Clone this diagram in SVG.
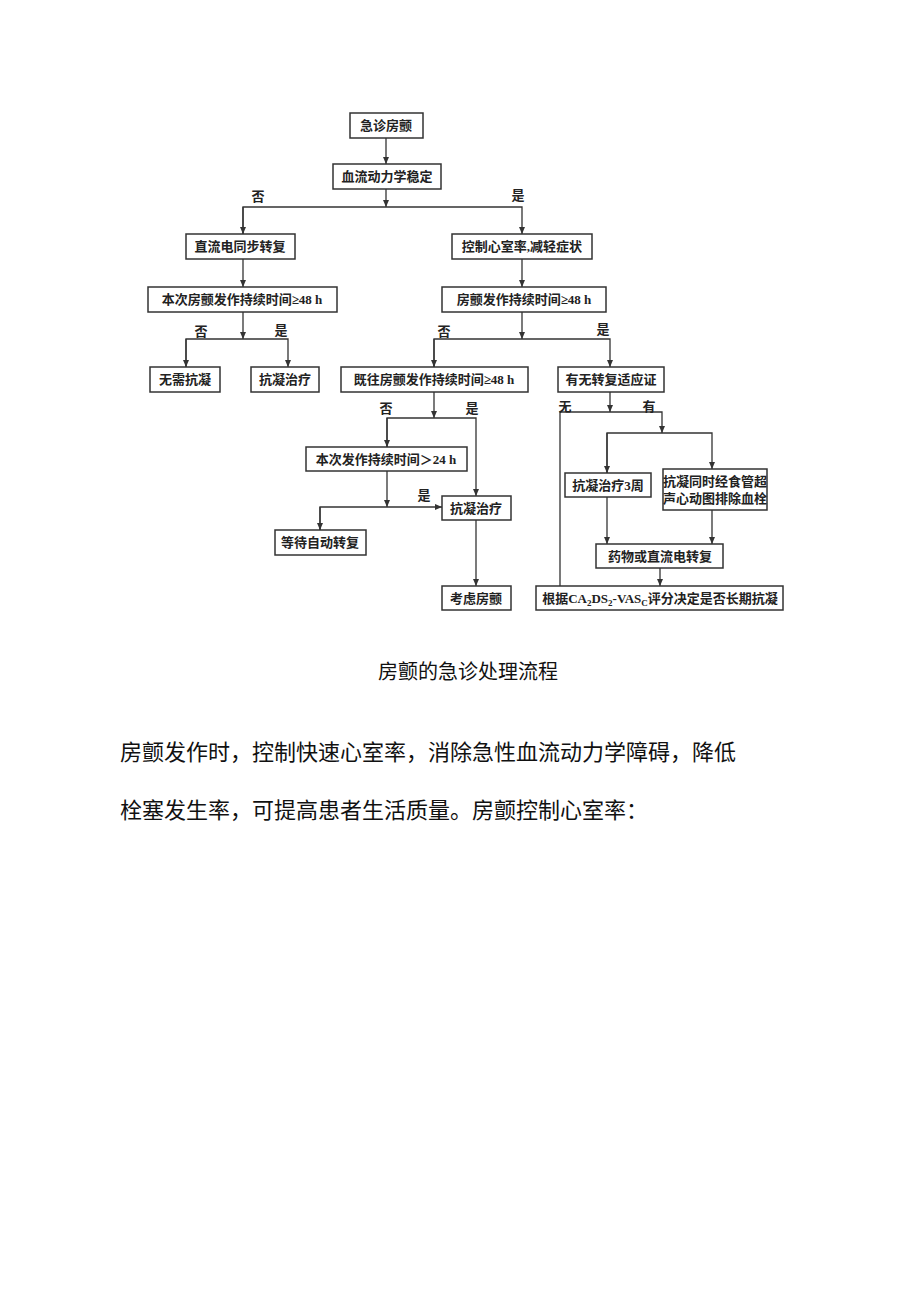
<svg xmlns="http://www.w3.org/2000/svg" width="920" height="1301" viewBox="0 0 920 1301">
<style>
.b{fill:#fff;stroke:#333;stroke-width:1.5}
.t{font-family:"Liberation Serif","Noto Sans CJK SC",serif;font-size:13px;font-weight:bold;fill:#222;text-anchor:middle}
.l{fill:none;stroke:#333;stroke-width:1.3}
.p{font-family:"Liberation Sans","Noto Sans CJK SC",sans-serif;fill:#111}
</style>
<defs><marker id="a" markerWidth="8" markerHeight="8" refX="7" refY="4" orient="auto" markerUnits="userSpaceOnUse"><path d="M0,1 L7,4 L0,7z" fill="#333"/></marker></defs>
<rect width="920" height="1301" fill="#fff"/>
<g id="connectors">
<path class="l" d="M386,138 V164" marker-end="url(#a)"/>
<path class="l" d="M386,189 V207" marker-end="url(#a)"/>
<path class="l" d="M243,234 V207 H522 V234" marker-end="url(#a)"/>
<path class="l" d="M243,207 V234" marker-end="url(#a)"/>
<path class="l" d="M243,259 V287" marker-end="url(#a)"/>
<path class="l" d="M522,259 V287" marker-end="url(#a)"/>
<path class="l" d="M243,312 V339" marker-end="url(#a)"/>
<path class="l" d="M186,367 V339 H288 V367" marker-end="url(#a)"/>
<path class="l" d="M186,339 V367" marker-end="url(#a)"/>
<path class="l" d="M522,312 V339" marker-end="url(#a)"/>
<path class="l" d="M434,367 V339 H610 V367" marker-end="url(#a)"/>
<path class="l" d="M434,339 V367" marker-end="url(#a)"/>
<path class="l" d="M434,392 V418" marker-end="url(#a)"/>
<path class="l" d="M387,447 V418 H476 V496" marker-end="url(#a)"/>
<path class="l" d="M387,418 V447" marker-end="url(#a)"/>
<path class="l" d="M387,471 V507" marker-end="url(#a)"/>
<path class="l" d="M320,530 V507 H442" marker-end="url(#a)"/>
<path class="l" d="M320,507 V530" marker-end="url(#a)"/>
<path class="l" d="M476,520 V586" marker-end="url(#a)"/>
<path class="l" d="M610,392 V412" marker-end="url(#a)"/>
<path class="l" d="M560,586 V412 H662 V433" marker-end="url(#a)"/>
<path class="l" d="M607,473 V433 H712 V469" marker-end="url(#a)"/>
<path class="l" d="M607,433 V473" marker-end="url(#a)"/>
<path class="l" d="M607,497 V544" marker-end="url(#a)"/>
<path class="l" d="M712,510 V544" marker-end="url(#a)"/>
<path class="l" d="M660,568 V586" marker-end="url(#a)"/>
</g>
<g class="t">
<text x="258" y="201">否</text><text x="518" y="200">是</text>
<text x="201" y="336">否</text><text x="281" y="335">是</text>
<text x="444" y="336">否</text><text x="603" y="334">是</text>
<text x="386" y="413">否</text><text x="472" y="413">是</text>
<text x="424" y="500">是</text>
<text x="565" y="411">无</text><text x="649" y="411">有</text>
</g>
<g id="n1"><rect class="b" x="350" y="113" width="73" height="25"/><text class="t" x="386" y="130">急诊房颤</text></g>
<g id="n2"><rect class="b" x="333" y="164" width="108" height="25"/><text class="t" x="387" y="181">血流动力学稳定</text></g>
<g id="n3"><rect class="b" x="186" y="234" width="109" height="25"/><text class="t" x="240" y="251">直流电同步转复</text></g>
<g id="n4"><rect class="b" x="452" y="234" width="140" height="25"/><text class="t" x="522" y="251">控制心室率,减轻症状</text></g>
<g id="n5"><rect class="b" x="148" y="287" width="189" height="25"/><text class="t" x="242" y="304">本次房颤发作持续时间≥48 h</text></g>
<g id="n6"><rect class="b" x="442" y="287" width="164" height="25"/><text class="t" x="524" y="304">房颤发作持续时间≥48 h</text></g>
<g id="n7"><rect class="b" x="150" y="367" width="70" height="25"/><text class="t" x="185" y="384">无需抗凝</text></g>
<g id="n8"><rect class="b" x="251" y="367" width="68" height="25"/><text class="t" x="285" y="384">抗凝治疗</text></g>
<g id="n9"><rect class="b" x="341" y="367" width="187" height="25"/><text class="t" x="434" y="384">既往房颤发作持续时间≥48 h</text></g>
<g id="n10"><rect class="b" x="558" y="367" width="106" height="25"/><text class="t" x="611" y="384">有无转复适应证</text></g>
<g id="n11"><rect class="b" x="306" y="447" width="161" height="24"/><text class="t" x="386" y="464">本次发作持续时间＞24 h</text></g>
<g id="n12"><rect class="b" x="442" y="496" width="69" height="24"/><text class="t" x="476" y="513">抗凝治疗</text></g>
<g id="n13"><rect class="b" x="275" y="530" width="91" height="25"/><text class="t" x="320" y="547">等待自动转复</text></g>
<g id="n14"><rect class="b" x="442" y="586" width="69" height="24"/><text class="t" x="476" y="603">考虑房颤</text></g>
<g id="n15"><rect class="b" x="565" y="473" width="86" height="24"/><text class="t" x="608" y="490">抗凝治疗3周</text></g>
<g id="n16"><rect class="b" x="663" y="469" width="104" height="41"/><text class="t" x="715" y="486">抗凝同时经食管超</text><text class="t" x="715" y="503">声心动图排除血栓</text></g>
<g id="n17"><rect class="b" x="596" y="544" width="127" height="24"/><text class="t" x="660" y="561">药物或直流电转复</text></g>
<g id="n18"><rect class="b" x="536" y="586" width="247" height="24"/><text class="t" x="660" y="603">根据CA<tspan font-size="9" dy="3">2</tspan><tspan dy="-3">DS</tspan><tspan font-size="9" dy="3">2</tspan><tspan dy="-3">-VAS</tspan><tspan font-size="9" dy="3">C</tspan><tspan dy="-3">评分决定是否长期抗凝</tspan></text></g>
<text class="p" x="468" y="679" font-size="20" text-anchor="middle">房颤的急诊处理流程</text>
<text class="p" x="120" y="760" font-size="22">房颤发作时，控制快速心室率，消除急性血流动力学障碍，降低</text>
<text class="p" x="120" y="818" font-size="22">栓塞发生率，可提高患者生活质量。房颤控制心室率：</text>
</svg>
